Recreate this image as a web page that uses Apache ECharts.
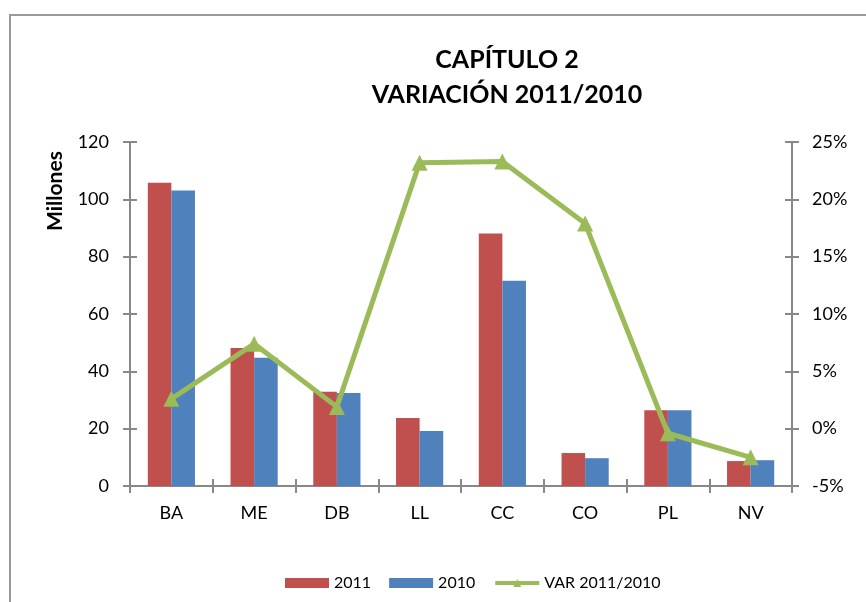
<!DOCTYPE html>
<html>
<head>
<meta charset="utf-8">
<script src="https://cdn.jsdelivr.net/npm/echarts@6/dist/echarts.min.js"></script>
<style>
  html, body { margin: 0; padding: 0; background: #fff; }
  #chart { width: 866px; height: 602px; }
</style>
</head>
<body>
<div id="chart"></div>
<script>
var categories = ['BA', 'ME', 'DB', 'LL', 'CC', 'CO', 'PL', 'NV'];
var values2011 = [105.8, 48.1, 32.9, 23.7, 88.1, 11.5, 26.4, 8.7];
var values2010 = [103.1, 44.7, 32.4, 19.2, 71.6, 9.7, 26.4, 9.0];
var variation = [2.6, 7.4, 1.9, 23.2, 23.3, 17.9, -0.4, -2.5];
var seriesNames = ['2011', '2010', 'VAR 2011/2010'];

(function() {
  var red = '#C0504D';
  var blue = '#4F81BD';
  var green = '#9BBB59';
  var axisGray = '#888888';
  var font = 'Lato, "Open Sans", sans-serif';

  var chart = echarts.init(document.getElementById('chart'), null, { renderer: 'canvas' });

  // extra axes only to draw the inner half of Excel's "cross" ticks
  var tickOnly = function(pos, min, max, interval) {
    return {
      type: 'value', position: pos, min: min, max: max, interval: interval,
      axisLine: { show: false },
      axisTick: { show: true, inside: true, length: 7, lineStyle: { color: axisGray, width: 2 } },
      axisLabel: { show: false },
      splitLine: { show: false }
    };
  };

  chart.setOption({
    animation: false,
    textStyle: { fontFamily: font },
    title: {
      text: 'CAPÍTULO 2\nVARIACIÓN 2011/2010',
      left: 502,
      top: 37,
      textAlign: 'center',
      textStyle: { fontFamily: font, fontSize: 25, fontWeight: 'bold', color: '#000', lineHeight: 35 }
    },
    graphic: [
      {
        type: 'rect',
        shape: { x: 10, y: 15, width: 900, height: 700 },
        style: { fill: 'none', stroke: '#9a9a9a', lineWidth: 2 },
        silent: true
      },
      {
        type: 'text',
        x: 55,
        y: 191,
        rotation: Math.PI / 2,
        style: {
          text: 'Millones',
          fontFamily: font,
          fontSize: 21,
          fontWeight: 'bold',
          fill: '#000',
          align: 'center',
          verticalAlign: 'middle'
        }
      }
    ],
    legend: {
      left: 280,
      top: 570,
      itemWidth: 44,
      itemHeight: 10,
      itemGap: 18,
      textStyle: { fontFamily: font, fontSize: 16, color: '#000' },
      data: [
        { name: seriesNames[0], icon: 'rect' },
        { name: seriesNames[1], icon: 'rect' },
        { name: seriesNames[2], itemStyle: { color: green }, lineStyle: { color: green, width: 4 } }
      ]
    },
    grid: { left: 130, right: 74, top: 142, bottom: 116 },
    xAxis: [
      {
        type: 'category',
        data: categories,
        axisLine: { onZero: false, lineStyle: { color: axisGray, width: 2 } },
        axisTick: { show: true, length: 7, lineStyle: { color: axisGray, width: 2 } },
        axisLabel: { color: '#000', fontSize: 18, margin: 18 }
      },
      {
        type: 'category',
        data: categories,
        position: 'bottom',
        axisLine: { show: false, onZero: false },
        axisTick: { show: true, inside: true, length: 7, lineStyle: { color: axisGray, width: 2 } },
        axisLabel: { show: false }
      }
    ],
    yAxis: [
      {
        type: 'value',
        position: 'left',
        min: 0,
        max: 120,
        interval: 20,
        axisLine: { show: true, lineStyle: { color: axisGray, width: 2 } },
        axisTick: { show: true, length: 7, lineStyle: { color: axisGray, width: 2 } },
        axisLabel: { color: '#000', fontSize: 18, margin: 21 },
        splitLine: { show: false }
      },
      {
        type: 'value',
        position: 'right',
        min: -5,
        max: 25,
        interval: 5,
        axisLine: { show: true, lineStyle: { color: axisGray, width: 2 } },
        axisTick: { show: true, length: 7, lineStyle: { color: axisGray, width: 2 } },
        axisLabel: { color: '#000', fontSize: 18, margin: 20, formatter: '{value}%' },
        splitLine: { show: false }
      },
      tickOnly('left', 0, 120, 20),
      tickOnly('right', -5, 25, 5)
    ],
    series: [
      {
        name: seriesNames[0],
        type: 'bar',
        data: values2011,
        barGap: '0%',
        barCategoryGap: '43%',
        itemStyle: { color: red }
      },
      {
        name: seriesNames[1],
        type: 'bar',
        data: values2010,
        barGap: '0%',
        barCategoryGap: '43%',
        itemStyle: { color: blue }
      },
      {
        name: seriesNames[2],
        type: 'line',
        yAxisIndex: 1,
        data: variation,
        symbol: 'triangle',
        symbolSize: 16,
        lineStyle: { color: green, width: 5 },
        itemStyle: { color: green }
      }
    ]
  });
})();
</script>
</body>
</html>
